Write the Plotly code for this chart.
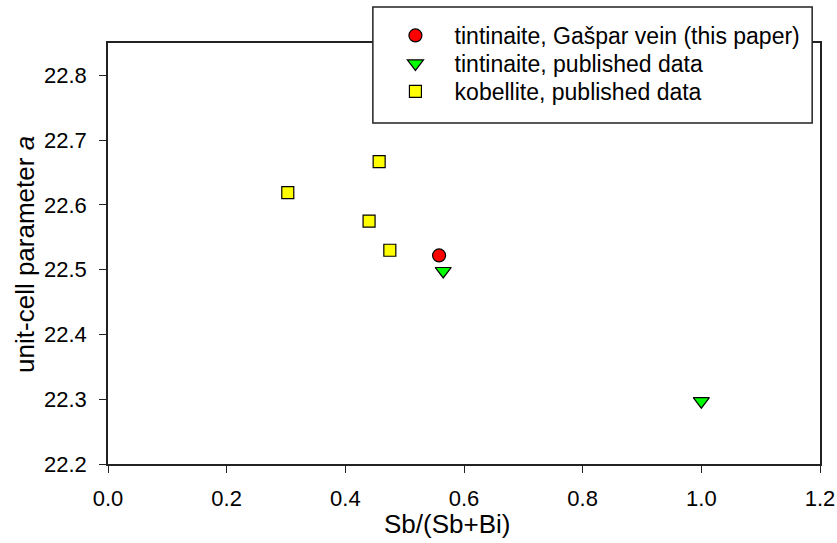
import plotly.graph_objects as go

# Data
gaspar_x = [0.558]
gaspar_y = [22.522]
tint_x = [0.565, 1.0]
tint_y = [22.498, 22.297]
kob_x = [0.303, 0.457, 0.440, 0.475]
kob_y = [22.619, 22.667, 22.575, 22.530]
x_ticks = [0.0, 0.2, 0.4, 0.6, 0.8, 1.0, 1.2]
y_ticks = [22.2, 22.3, 22.4, 22.5, 22.6, 22.7, 22.8]

FONT = "Liberation Sans, Arial, sans-serif"
PAD = "\u00a0\u00a0\u00a0"

fig = go.Figure()
fig.add_trace(go.Scatter(
    x=gaspar_x, y=gaspar_y, mode="markers", legend="legend",
    name=PAD + "tintinaite, Gašpar vein (this paper)",
    marker=dict(symbol="circle", size=13, color="#ff0000",
                line=dict(color="black", width=1.2))))
fig.add_trace(go.Scatter(
    x=tint_x, y=tint_y, mode="markers", legend="legend2",
    name=PAD + "tintinaite, published data",
    marker=dict(symbol="triangle-down", size=14, color="#00ff00",
                line=dict(color="black", width=1.2))))
fig.add_trace(go.Scatter(
    x=kob_x, y=kob_y, mode="markers", legend="legend3",
    name=PAD + "kobellite, published data",
    marker=dict(symbol="square", size=12, color="#ffff00",
                line=dict(color="black", width=1.2))))

axis_common = dict(showline=True, linecolor="#222222", linewidth=1.5, mirror=True,
                   ticks="outside", ticklen=7, tickwidth=1.2, tickcolor="#222222",
                   showgrid=False, zeroline=False, automargin=False,
                   tickfont=dict(family=FONT, size=22, color="black"))

fig.update_xaxes(range=[0, 1.2], tickvals=x_ticks, ticklabelstandoff=7,
                 ticktext=[f"{v:.1f}" for v in x_ticks], **axis_common)
fig.update_yaxes(range=[22.2, 22.85], tickvals=y_ticks, ticklabelstandoff=8,
                 ticktext=[f"{v:.1f}" for v in y_ticks], **axis_common)

fig.add_annotation(text="Sb/(Sb+Bi)", xref="paper", yref="paper",
                   x=0.4757, y=-0.1425, xanchor="center", yanchor="middle",
                   showarrow=False, font=dict(family=FONT, size=26, color="black"))
fig.add_annotation(text="unit-cell parameter <i>a</i>", xref="paper", yref="paper",
                   x=-0.1166, y=0.499, xanchor="center", yanchor="middle", textangle=-90,
                   showarrow=False, font=dict(family=FONT, size=26, color="black"))

fig.add_shape(type="rect", xref="paper", yref="paper",
              x0=0.372, x1=0.989, y0=0.81, y1=1.0855,
              line=dict(color="#222222", width=1.5), fillcolor="white", layer="above")

leg_common = dict(x=0.4037, xanchor="left", yanchor="top",
                  bgcolor="rgba(0,0,0,0)", borderwidth=0,
                  font=dict(family=FONT, size=23, color="black"),
                  tracegroupgap=0, itemsizing="trace")

fig.update_layout(
    width=837, height=543,
    margin=dict(l=108, r=17, t=43, b=79, autoexpand=False),
    paper_bgcolor="white", plot_bgcolor="white",
    showlegend=True,
    legend=dict(y=1.0689, **leg_common),
    legend2=dict(y=1.0024, **leg_common),
    legend3=dict(y=0.9359, **leg_common),
)

# remove the browser's default 8px body margin so the figure fills the window
fig.write_html("out.html", config={"displayModeBar": False},
               post_script="document.body.style.margin='0px';document.body.style.overflow='hidden';")
